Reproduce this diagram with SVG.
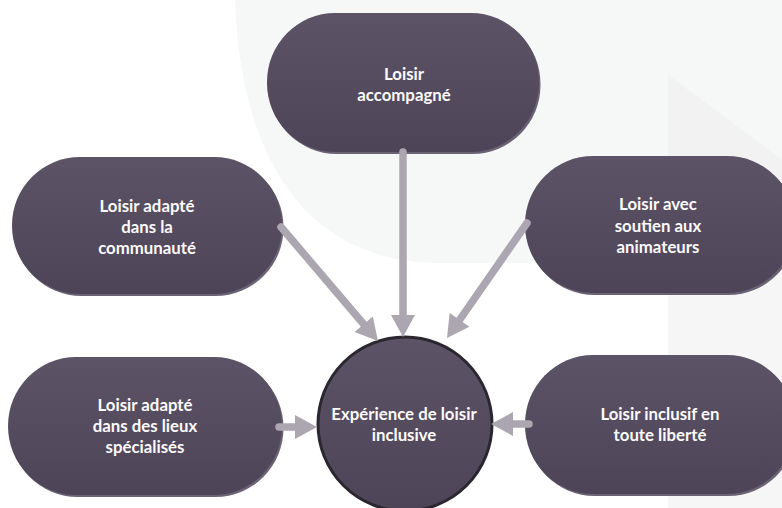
<svg xmlns="http://www.w3.org/2000/svg" width="782" height="508" viewBox="0 0 782 508">
  <defs>
    <linearGradient id="nodeFill" x1="0" y1="0" x2="0" y2="1">
      <stop offset="0" stop-color="#5d5367"/>
      <stop offset="1" stop-color="#4e4457"/>
    </linearGradient>
    <marker id="head" markerUnits="userSpaceOnUse" markerWidth="26" markerHeight="26" viewBox="-2 -13 26 26" refX="2" refY="0" orient="auto">
      <path d="M0,-12 L22,0 L0,12 Z" fill="#aca6b1"/>
    </marker>
    <style>
      .bg { fill: #f6f7f7; }
      .wedge { fill: #ededee; fill-opacity: 0.5; }
      .rim { fill: #6b6375; }
      .body { fill: url(#nodeFill); }
      .hub { fill: url(#nodeFill); stroke: #2b262f; stroke-width: 3; }
      .label { font-family: "Lato", "Liberation Sans", sans-serif; font-weight: 700; font-size: 16.8px; fill: #fbfafc; text-anchor: middle; }
      .link { fill: none; stroke: #aca6b1; stroke-width: 7.5; stroke-linecap: round; marker-end: url(#head); }
    </style>
  </defs>

  <!-- background panels -->
  <rect width="782" height="508" fill="#ffffff"/>
  <path class="bg" d="M235,0 L782,0 L782,263 L440,263 C300,263 240,150 235,0 Z"/>
  <polygon class="wedge" points="668,75 782,160 782,508 668,508"/>

  <!-- outer nodes -->
  <g id="node-accompagne">
    <rect class="rim" x="268.5" y="15" width="272" height="139" rx="68" ry="69"/>
    <rect class="body" x="267" y="13" width="272" height="139" rx="68" ry="69"/>
    <text class="label" x="404" y="79.5">Loisir</text>
    <text class="label" x="404" y="101">accompagné</text>
  </g>

  <g id="node-communaute">
    <rect class="rim" x="13.5" y="159" width="270" height="137" rx="68" ry="68"/>
    <rect class="body" x="12" y="157" width="270" height="137" rx="68" ry="68"/>
    <text class="label" x="147" y="212">Loisir adapté</text>
    <text class="label" x="147" y="233">dans la</text>
    <text class="label" x="147" y="254">communauté</text>
  </g>

  <g id="node-animateurs">
    <rect class="rim" x="526.5" y="158" width="270" height="137" rx="68" ry="68"/>
    <rect class="body" x="525" y="156" width="270" height="137" rx="68" ry="68"/>
    <text class="label" x="658" y="210">Loisir avec</text>
    <text class="label" x="658" y="231.5">soutien aux</text>
    <text class="label" x="658" y="253">animateurs</text>
  </g>

  <g id="node-lieux">
    <rect class="rim" x="9.5" y="359" width="274" height="138" rx="68" ry="69"/>
    <rect class="body" x="8" y="357" width="274" height="138" rx="68" ry="69"/>
    <text class="label" x="145" y="411">Loisir adapté</text>
    <text class="label" x="145" y="432">dans des lieux</text>
    <text class="label" x="145" y="453">spécialisés</text>
  </g>

  <g id="node-liberte">
    <rect class="rim" x="526.5" y="357" width="270" height="139" rx="68" ry="69"/>
    <rect class="body" x="525" y="355" width="270" height="139" rx="68" ry="69"/>
    <text class="label" x="660" y="420">Loisir inclusif en</text>
    <text class="label" x="660" y="441">toute liberté</text>
  </g>

  <!-- central node -->
  <g id="node-experience">
    <circle class="hub" cx="405" cy="424" r="87"/>
    <text class="label" x="404" y="420">Expérience de loisir</text>
    <text class="label" x="404" y="441">inclusive</text>
  </g>

  <!-- connectors -->
  <g id="connectors">
    <line class="link" x1="403" y1="152" x2="403" y2="317"/>
    <line class="link" x1="281" y1="227" x2="365" y2="325.8"/>
    <line class="link" x1="527" y1="223" x2="458.4" y2="321.6"/>
    <line class="link" x1="279" y1="427" x2="297" y2="427"/>
    <line class="link" x1="529" y1="424" x2="511" y2="424"/>
  </g>
</svg>
